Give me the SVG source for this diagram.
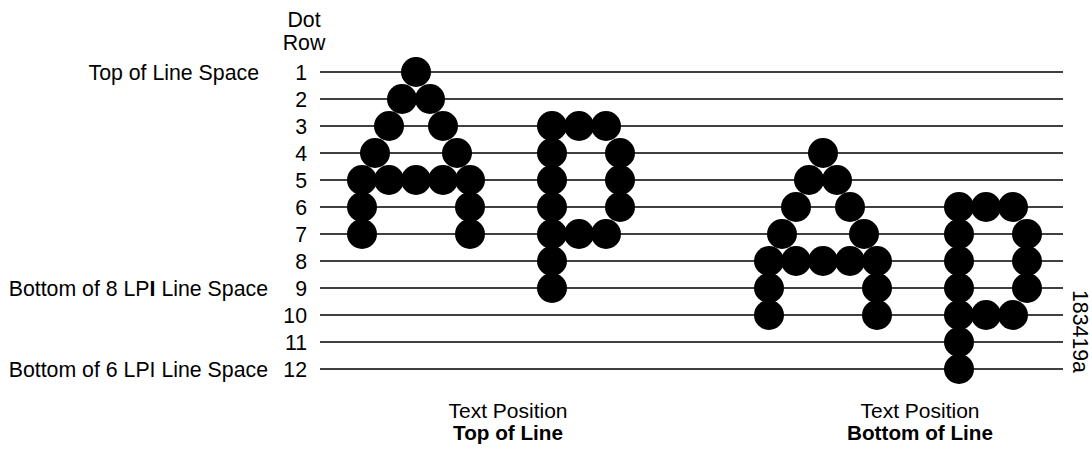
<svg xmlns="http://www.w3.org/2000/svg" width="1092" height="449" viewBox="0 0 1092 449">
<style>
text{font-family:"Liberation Sans",Arial,sans-serif;font-size:21.3px;fill:#000}
.num{text-anchor:end}
.lbl{text-anchor:end}
.mid{text-anchor:middle;font-size:21px}
.b{font-weight:bold}
.mid.b{font-size:20.7px}
.rule{stroke:#000;stroke-width:1.5}
circle{fill:#000}
</style>
<defs>
<circle id="d" r="15"/>
</defs>
<rect width="1092" height="449" fill="#fff"/>
<g id="header">
<text x="304" y="27" text-anchor="middle">Dot</text>
<text x="304" y="50" text-anchor="middle">Row</text>
</g>
<g id="side-labels">
<text class="lbl" x="259" y="79.5">Top of Line Space</text>
<text class="lbl" x="268" y="295.5">Bottom of 8 LP<tspan class="b">I</tspan> Line Space</text>
<text class="lbl" x="268" y="376.5">Bottom of 6 LPI Line Space</text>
</g>
<g id="row-numbers">
<text class="num" x="307" y="79.5">1</text>
<text class="num" x="307" y="106.5">2</text>
<text class="num" x="307" y="133.5">3</text>
<text class="num" x="307" y="160.5">4</text>
<text class="num" x="307" y="187.5">5</text>
<text class="num" x="307" y="214.5">6</text>
<text class="num" x="307" y="241.5">7</text>
<text class="num" x="307" y="268.5">8</text>
<text class="num" x="307" y="295.5">9</text>
<text class="num" x="307" y="322.5">10</text>
<text class="num" x="307" y="349.5">11</text>
<text class="num" x="307" y="376.5">12</text>
</g>
<g id="connectors">
<line class="rule" x1="320" y1="72" x2="1063" y2="72"/>
<line class="rule" x1="320" y1="99" x2="1063" y2="99"/>
<line class="rule" x1="320" y1="126" x2="1063" y2="126"/>
<line class="rule" x1="320" y1="153" x2="1063" y2="153"/>
<line class="rule" x1="320" y1="180" x2="1063" y2="180"/>
<line class="rule" x1="320" y1="207" x2="1063" y2="207"/>
<line class="rule" x1="320" y1="234" x2="1063" y2="234"/>
<line class="rule" x1="320" y1="261" x2="1063" y2="261"/>
<line class="rule" x1="320" y1="288" x2="1063" y2="288"/>
<line class="rule" x1="320" y1="315" x2="1063" y2="315"/>
<line class="rule" x1="320" y1="342" x2="1063" y2="342"/>
<line class="rule" x1="320" y1="369" x2="1063" y2="369"/>
</g>
<g id="A-top">
<use href="#d" x="416" y="72"/>
<use href="#d" x="402" y="99"/><use href="#d" x="430" y="99"/>
<use href="#d" x="389" y="126"/><use href="#d" x="443" y="126"/>
<use href="#d" x="375" y="153"/><use href="#d" x="457" y="153"/>
<use href="#d" x="362" y="180"/><use href="#d" x="389" y="180"/><use href="#d" x="416" y="180"/><use href="#d" x="443" y="180"/><use href="#d" x="470" y="180"/>
<use href="#d" x="362" y="207"/><use href="#d" x="470" y="207"/>
<use href="#d" x="362" y="234"/><use href="#d" x="470" y="234"/>
</g>
<g id="p-top">
<use href="#d" x="552" y="126"/><use href="#d" x="579" y="126"/><use href="#d" x="606" y="126"/>
<use href="#d" x="552" y="153"/><use href="#d" x="620" y="153"/>
<use href="#d" x="552" y="180"/><use href="#d" x="620" y="180"/>
<use href="#d" x="552" y="207"/><use href="#d" x="620" y="207"/>
<use href="#d" x="552" y="234"/><use href="#d" x="579" y="234"/><use href="#d" x="606" y="234"/>
<use href="#d" x="552" y="261"/>
<use href="#d" x="552" y="288"/>
</g>
<g id="A-bottom">
<use href="#d" x="823" y="153"/>
<use href="#d" x="809" y="180"/><use href="#d" x="837" y="180"/>
<use href="#d" x="796" y="207"/><use href="#d" x="850" y="207"/>
<use href="#d" x="782" y="234"/><use href="#d" x="864" y="234"/>
<use href="#d" x="769" y="261"/><use href="#d" x="796" y="261"/><use href="#d" x="823" y="261"/><use href="#d" x="850" y="261"/><use href="#d" x="877" y="261"/>
<use href="#d" x="769" y="288"/><use href="#d" x="877" y="288"/>
<use href="#d" x="769" y="315"/><use href="#d" x="877" y="315"/>
</g>
<g id="p-bottom">
<use href="#d" x="959" y="207"/><use href="#d" x="986" y="207"/><use href="#d" x="1013" y="207"/>
<use href="#d" x="959" y="234"/><use href="#d" x="1027" y="234"/>
<use href="#d" x="959" y="261"/><use href="#d" x="1027" y="261"/>
<use href="#d" x="959" y="288"/><use href="#d" x="1027" y="288"/>
<use href="#d" x="959" y="315"/><use href="#d" x="986" y="315"/><use href="#d" x="1013" y="315"/>
<use href="#d" x="959" y="342"/>
<use href="#d" x="959" y="369"/>
</g>
<g id="caption-top">
<text class="mid" x="508" y="418">Text Position</text>
<text class="mid b" x="508" y="440">Top of Line</text>
</g>
<g id="caption-bottom">
<text class="mid" x="920" y="418">Text Position</text>
<text class="mid b" x="920" y="440">Bottom of Line</text>
</g>
<g id="figure-id">
<text transform="translate(1073,290) rotate(90)" font-size="20.5">183419a</text>
</g>
</svg>
